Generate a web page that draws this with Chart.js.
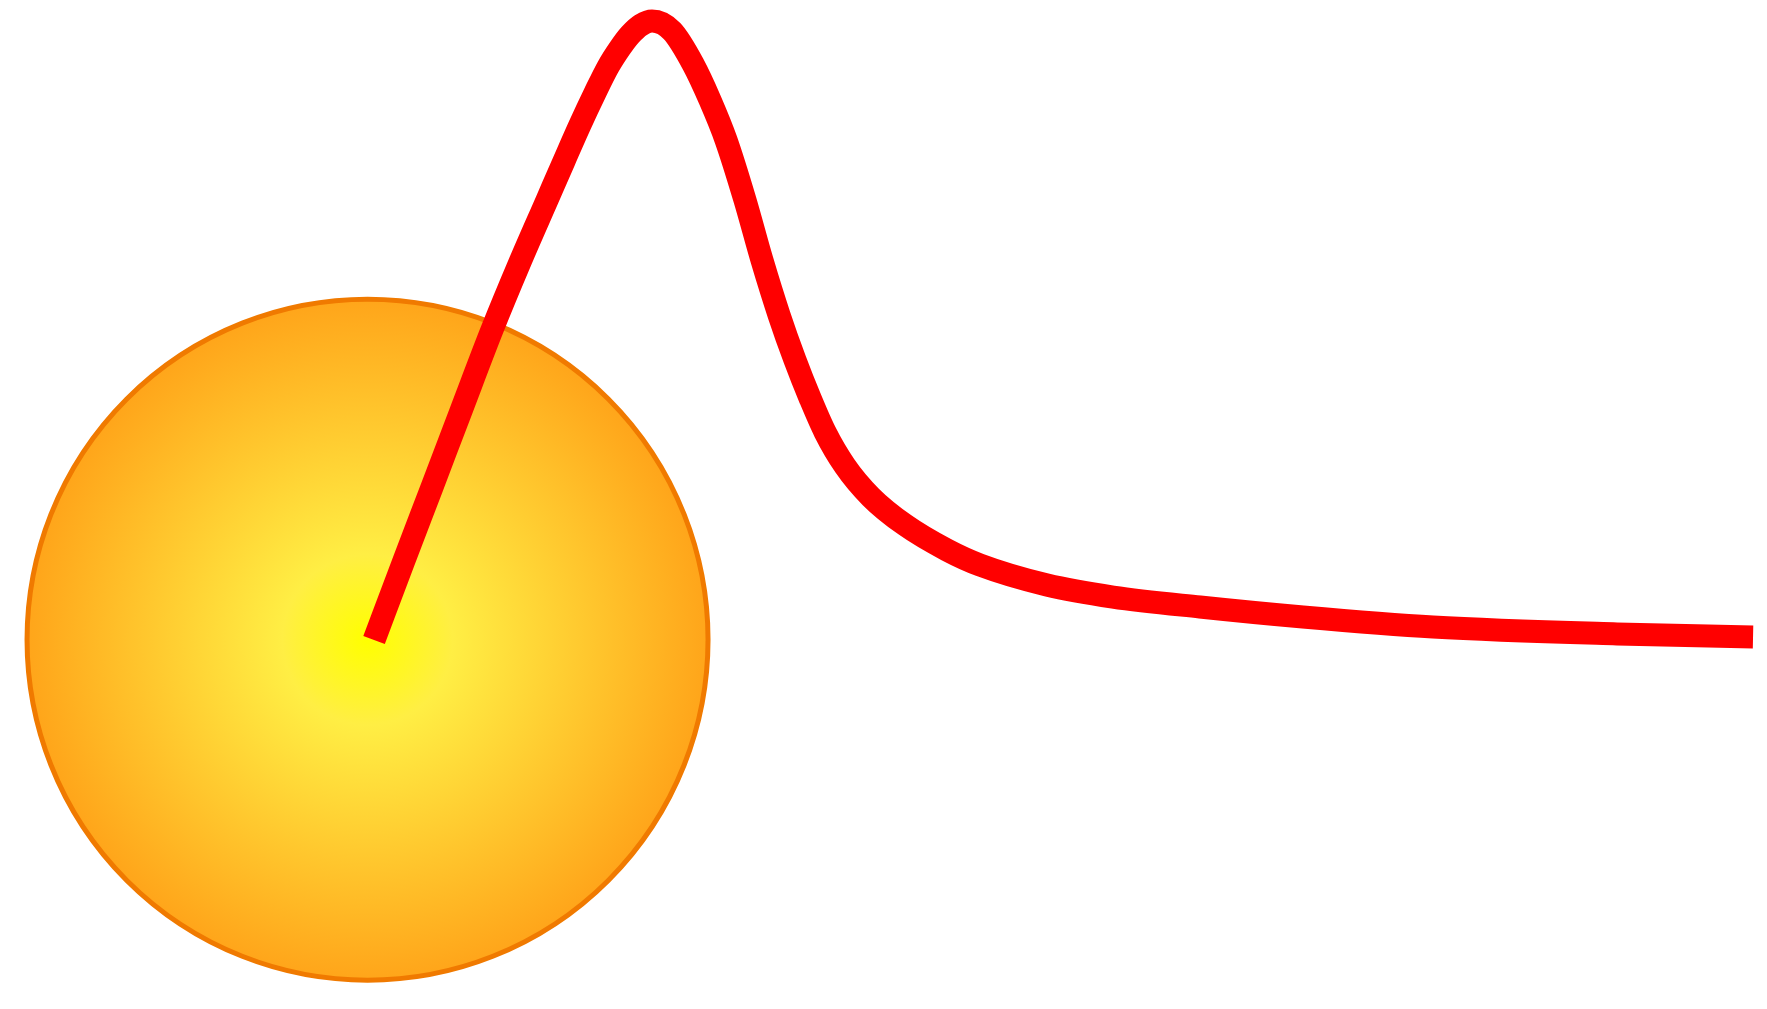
<!DOCTYPE html>
<html lang="en">
<head>
    <meta charset="UTF-8">
    <title>Sun spectrum</title>
    <script src="https://cdn.jsdelivr.net/npm/chart.js"></script>
    <style>
        html, body {
            margin: 0;
            padding: 0;
            background-color: #ffffff;
            overflow: hidden;
        }
        #wrap {
            width: 100vw;
            height: 100vh;
        }
    </style>
</head>
<body>
    <div id="wrap"><canvas id="sunChart"></canvas></div>
    <script>
        // curve samples (x, y in plot units 0..100)
        const curveX = [21.17, 22.81, 24.45, 26.15, 27.84, 29.43, 30.96, 31.92,
                        32.82, 33.67, 34.41, 35.09, 35.65, 36.28, 36.90,
                        38.03, 39.22, 40.18, 41.09, 42.16, 43.12, 44.09, 44.99,
                        45.84, 46.69, 47.82, 49.29, 51.22, 53.59, 55.46, 59.25,
                        62.99, 67.91, 73.74, 81.10, 91.51, 99.21];
        const curveY = [36.57, 44.20, 51.73, 59.56, 67.29, 74.03, 80.18, 84.04,
                        87.61, 90.78, 93.36, 95.24, 96.53, 97.52, 97.92,
                        96.93, 93.66, 90.09, 86.12, 80.18, 74.23, 68.78, 64.32,
                        60.56, 57.19, 53.82, 50.74, 47.97, 45.49, 44.00, 42.02,
                        40.83, 39.84, 38.85, 37.86, 37.17, 36.87];
        // sun centre
        const sunX = [20.8];
        const sunY = [36.6];

        const SUN_RADIUS = 340.5;

        function sunFill(ctx) {
            const chart = ctx.chart;
            if (!chart.chartArea) return '#ffc020';
            const cx = chart.scales.x.getPixelForValue(sunX[0]);
            const cy = chart.scales.y.getPixelForValue(sunY[0]);
            const g = chart.ctx.createRadialGradient(cx, cy, 0, cx, cy, SUN_RADIUS);
            g.addColorStop(0, '#ffff00');
            g.addColorStop(0.25, '#ffee44');
            g.addColorStop(1, '#ffa51a');
            return g;
        }

        const ctx = document.getElementById('sunChart').getContext('2d');
        new Chart(ctx, {
            type: 'scatter',
            data: {
                datasets: [{
                    label: 'spectrum',
                    data: curveX.map((x, i) => ({ x: x, y: curveY[i] })),
                    showLine: true,
                    borderColor: '#ff0000',
                    borderWidth: 23,
                    borderCapStyle: 'butt',
                    borderJoinStyle: 'round',
                    cubicInterpolationMode: 'monotone',
                    pointRadius: 0,
                    pointHoverRadius: 0,
                    clip: false
                }, {
                    label: 'sun',
                    data: sunX.map((x, i) => ({ x: x, y: sunY[i] })),
                    showLine: false,
                    pointRadius: SUN_RADIUS,
                    pointHoverRadius: SUN_RADIUS,
                    pointBackgroundColor: sunFill,
                    pointBorderColor: '#f07a00',
                    pointBorderWidth: 5,
                    clip: false
                }]
            },
            options: {
                responsive: true,
                maintainAspectRatio: false,
                animation: false,
                events: [],
                // the big sun point would otherwise push the plot inwards
                layout: { padding: 0, autoPadding: false },
                scales: {
                    x: { type: 'linear', min: 0, max: 100, display: false },
                    y: { type: 'linear', min: 0, max: 100, display: false }
                },
                plugins: {
                    legend: { display: false },
                    tooltip: { enabled: false }
                }
            }
        });
    </script>
</body>
</html>
